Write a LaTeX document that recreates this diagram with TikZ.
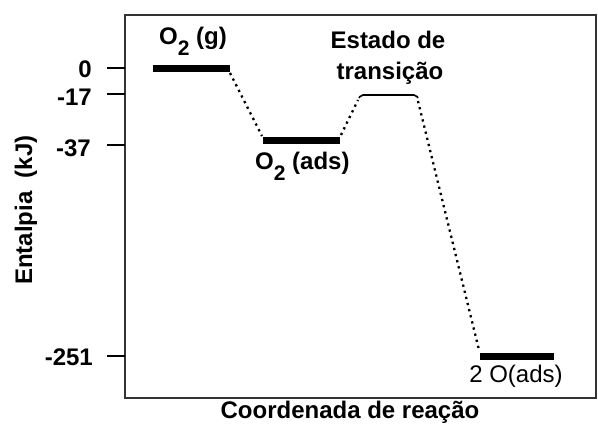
\documentclass[tikz,border=0pt]{standalone}
\usepackage{fontspec}
\setmainfont{Liberation Sans}
\begin{document}
\begin{tikzpicture}[x=1pt,y=-1pt,
  lbl/.style={font=\fontsize{24}{28}\selectfont\bfseries, inner sep=0pt},
  lblreg/.style={font=\fontsize{24}{28}\selectfont, inner sep=0pt},
  level/.style={line width=6.5pt, black},
  tsline/.style={line width=1.6pt, black, rounded corners=2pt},
  dotline/.style={line width=2.3pt, dash pattern=on 2.3pt off 4pt},
  tick/.style={line width=2.5pt, black},
  frame/.style={line width=2pt, draw=black!80}]
\useasboundingbox (0,0) rectangle (598,428);
\fill[white] (0,0) rectangle (598,428);
% frame
\draw[frame] (125,15) rectangle (596,398);
% ticks
\coordinate (t0a) at (107,68);  \coordinate (t0b) at (125,68);
\coordinate (t1a) at (107,94);  \coordinate (t1b) at (125,94);
\coordinate (t2a) at (107,145); \coordinate (t2b) at (125,145);
\coordinate (t3a) at (107,356); \coordinate (t3b) at (125,356);
\draw[tick] (t0a) -- (t0b);
\draw[tick] (t1a) -- (t1b);
\draw[tick] (t2a) -- (t2b);
\draw[tick] (t3a) -- (t3b);
\node[lbl, anchor=east] (n0) at (92,69) {0};
\node[lbl, anchor=east] (n1) at (92,97) {-17};
\node[lbl, anchor=east] (n2) at (91,148) {-37};
\node[lbl, anchor=east] (n3) at (93,357) {-251};
% levels
\coordinate (ga) at (153,68.5);  \coordinate (gb) at (230,68.5);
\coordinate (aa) at (263,140.5); \coordinate (ab) at (340,140.5);
\coordinate (sa) at (359,98);    \coordinate (sb) at (418,98);
\coordinate (oa) at (480,356.5); \coordinate (ob) at (554,356.5);
\draw[level] (ga) -- (gb);
\draw[level] (aa) -- (ab);
\draw[level] (oa) -- (ob);
\draw[tsline] (sa) -- (361,95) -- (416,95) -- (sb);
% dotted connectors
\coordinate (d1a) at (230,73);  \coordinate (d1b) at (262,136);
\coordinate (d2a) at (341,135); \coordinate (d2b) at (358,100);
\coordinate (d3a) at (418,101); \coordinate (d3b) at (479,350);
\draw[dotline] (d1a) -- (d1b);
\draw[dotline] (d2a) -- (d2b);
\draw[dotline] (d3a) -- (d3b);
% labels
\node[lbl, anchor=base west] (lg) at (159,45) {O\raisebox{-10.5pt}{\fontsize{21}{22}\selectfont 2} (g)};
\node[lbl, anchor=base] (lts1) at (388,49) {Estado de};
\node[lbl, anchor=base] (lts2) at (390,80) {transição};
\node[lbl, anchor=base west] (lads) at (255,169) {O\raisebox{-12pt}{\fontsize{21}{22}\selectfont 2} (ads)};
\node[lblreg, anchor=base] (lo) at (516,382) {2 O(ads)};
\node[lbl, anchor=base] (lx) at (350,418) {Coordenada de reação};
\node[lbl, anchor=base, rotate=90] (ly) at (32,210) {Entalpia\ \ (kJ)};
\end{tikzpicture}
\end{document}
